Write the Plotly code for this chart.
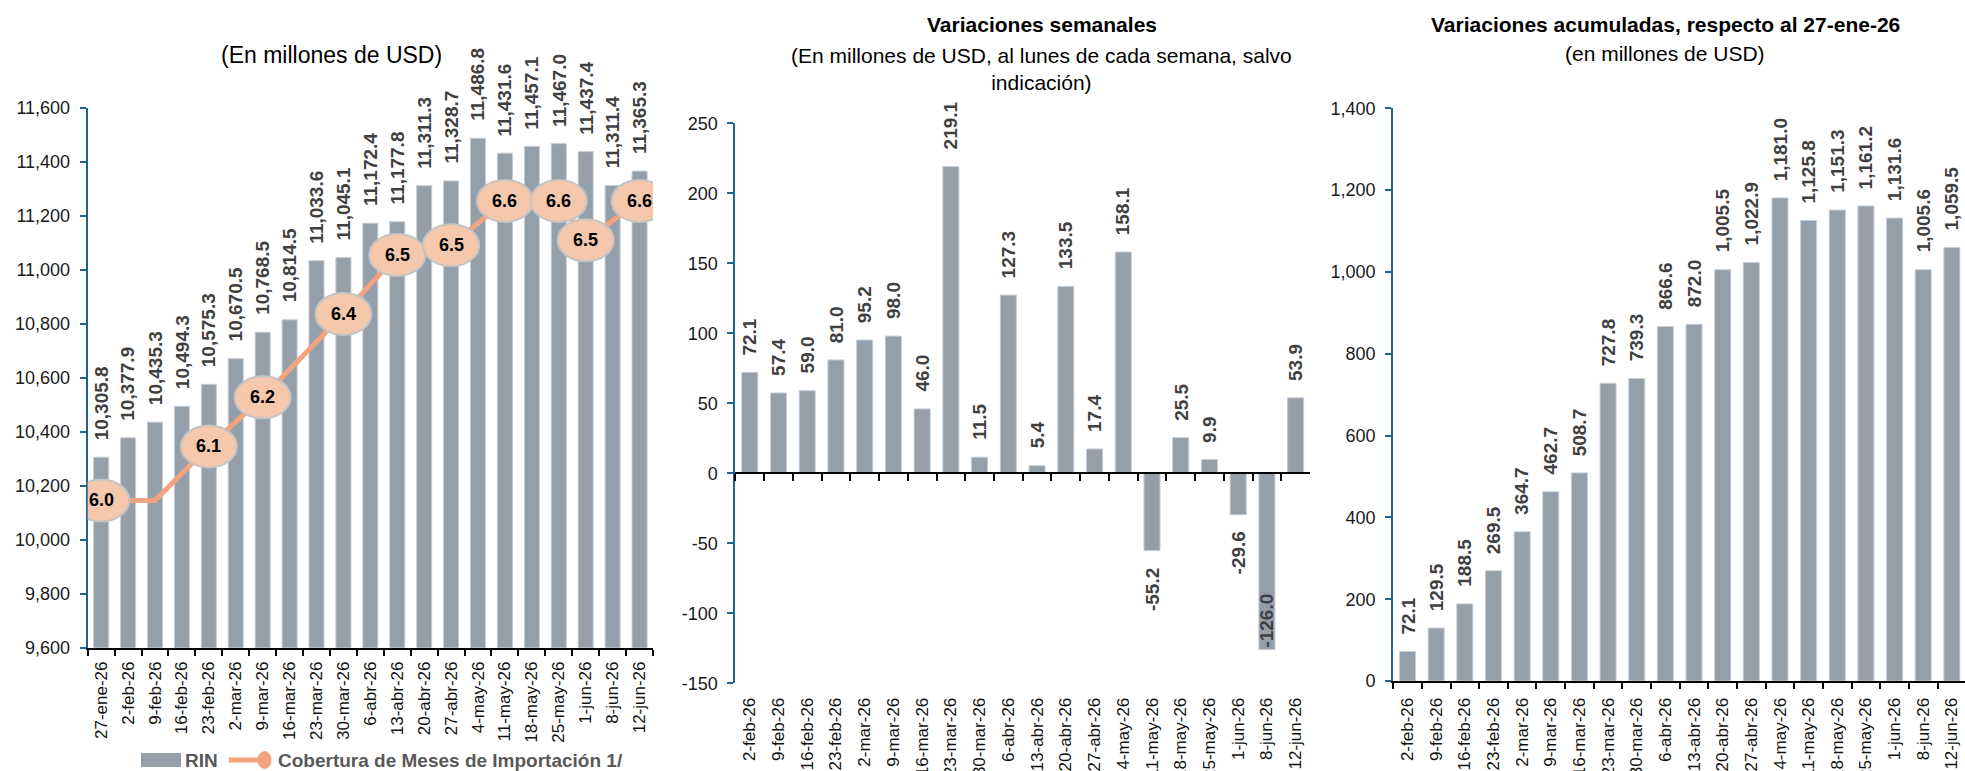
import plotly.graph_objects as go

# ---------------- DATA ----------------
fechas_rin = ["27-ene-26", "2-feb-26", "9-feb-26", "16-feb-26", "23-feb-26", "2-mar-26",
              "9-mar-26", "16-mar-26", "23-mar-26", "30-mar-26", "6-abr-26", "13-abr-26",
              "20-abr-26", "27-abr-26", "4-may-26", "11-may-26", "18-may-26", "25-may-26",
              "1-jun-26", "8-jun-26", "12-jun-26"]
rin = [10305.8, 10377.9, 10435.3, 10494.3, 10575.3, 10670.5, 10768.5, 10814.5, 11033.6,
       11045.1, 11172.4, 11177.8, 11311.3, 11328.7, 11486.8, 11431.6, 11457.1, 11467.0,
       11437.4, 11311.4, 11365.3]
# Cobertura de meses de importación (None = not readable on the chart)
cobertura = [6.00, None, 6.00, None, 6.11, None, 6.21, None, None, 6.38, None, 6.50,
             None, 6.52, None, 6.61, None, 6.61, 6.53, None, 6.61]
cobertura_etiqueta = [True, False, False, False, True, False, True, False, False, True, False,
                      True, False, True, False, True, False, True, True, False, True]

fechas_sem = ["2-feb-26", "9-feb-26", "16-feb-26", "23-feb-26", "2-mar-26", "9-mar-26",
              "16-mar-26", "23-mar-26", "30-mar-26", "6-abr-26", "13-abr-26", "20-abr-26",
              "27-abr-26", "4-may-26", "11-may-26", "18-may-26", "25-may-26", "1-jun-26",
              "8-jun-26", "12-jun-26"]
var_semanal = [72.1, 57.4, 59.0, 81.0, 95.2, 98.0, 46.0, 219.1, 11.5, 127.3, 5.4, 133.5,
               17.4, 158.1, -55.2, 25.5, 9.9, -29.6, -126.0, 53.9]
var_acumulada = [72.1, 129.5, 188.5, 269.5, 364.7, 462.7, 508.7, 727.8, 739.3, 866.6, 872.0,
                 1005.5, 1022.9, 1181.0, 1125.8, 1151.3, 1161.2, 1131.6, 1005.6, 1059.5]

ticks_rin = [9600, 9800, 10000, 10200, 10400, 10600, 10800, 11000, 11200, 11400, 11600]
ticks_sem = [-150, -100, -50, 0, 50, 100, 150, 200, 250]
ticks_acum = [0, 200, 400, 600, 800, 1000, 1200, 1400]
rango_cobertura = [5.7, 6.8]

# ---------------- STYLE / LAYOUT ----------------
W, H = 1965, 771
FONT = "Arial, 'Liberation Sans', sans-serif"
BAR = "#959FAA"
BAR_EDGE = "#C9CED3"
AXIS_BLUE = "#1F6391"
SALMON = "#F2A47F"
PEACH = "#F6C8AB"
LABEL_COL = "#404040"
LBL_SIZE = 19
GAP = 15


def xd(a, b):
    return [a / W, b / W]


def yd(top, bottom):
    return [1 - bottom / H, 1 - top / H]


dom_x1, dom_y1 = xd(87.7, 653.0), yd(107.7, 647.7)
dom_x2, dom_y2 = xd(735.4, 1310.0), yd(123.3, 683.3)
dom_x3, dom_y3 = xd(1393.2, W), yd(108.3, 681.0)
cat_px3 = 28.65
range_x3 = [-0.5, -0.5 + (W - 1393.2) / cat_px3]


def fmt(v):
    return f"{v:,.0f}"


fig = go.Figure()

# Chart 1
fig.add_trace(go.Bar(x=fechas_rin, y=rin, xaxis="x", yaxis="y", name="RIN",
                     marker=dict(color=BAR, line=dict(color=BAR_EDGE, width=1)),
                     showlegend=False, hoverinfo="skip"))
fig.add_trace(go.Scatter(x=fechas_rin, y=cobertura, xaxis="x", yaxis="y4",
                         name="Cobertura de Meses de Importación 1/", mode="lines",
                         connectgaps=True, line=dict(color=SALMON, width=5),
                         showlegend=False, hoverinfo="skip"))
# Chart 2
fig.add_trace(go.Bar(x=fechas_sem, y=var_semanal, xaxis="x2", yaxis="y2",
                     marker=dict(color=BAR, line=dict(color=BAR_EDGE, width=1)),
                     showlegend=False, hoverinfo="skip"))
fig.add_trace(go.Scatter(x=fechas_sem, y=[0] * len(fechas_sem), xaxis="x5", yaxis="y2",
                         mode="markers", marker=dict(opacity=0), showlegend=False,
                         hoverinfo="skip"))
# Chart 3
fig.add_trace(go.Bar(x=fechas_sem, y=var_acumulada, xaxis="x3", yaxis="y3",
                     marker=dict(color=BAR, line=dict(color=BAR_EDGE, width=1)),
                     showlegend=False, hoverinfo="skip"))

ytick_font = dict(family=FONT, size=18, color="#1a1a1a")
xtick_font = dict(family=FONT, size=17, color="#111111")


def yaxis_style(dom, anchor, ticks, rng, standoff):
    return dict(domain=dom, anchor=anchor, range=rng, tickmode="array", tickvals=ticks,
                ticktext=[fmt(t) for t in ticks], showline=True, linecolor=AXIS_BLUE,
                linewidth=2, ticks="outside", ticklen=6, tickwidth=2, tickcolor=AXIS_BLUE,
                showgrid=False, zeroline=False, tickfont=ytick_font,
                ticklabelstandoff=standoff, automargin=False)


def xaxis_style(dom, anchor, cats, rng, standoff, line=True):
    d = dict(domain=dom, anchor=anchor, type="category", categoryorder="array",
             categoryarray=cats, range=rng, tickangle=-90, tickfont=xtick_font,
             showgrid=False, zeroline=False, ticklabelstandoff=standoff, automargin=False)
    if line:
        d.update(showline=True, linecolor="black", linewidth=2, ticks="outside",
                 tickson="boundaries", ticklen=6, tickwidth=2, tickcolor="black")
    else:
        d.update(showline=False, ticks="")
    return d


pos_zero = dom_y2[0] + (0 - ticks_sem[0]) / (ticks_sem[-1] - ticks_sem[0]) * (dom_y2[1] - dom_y2[0])

fig.update_layout(
    width=W, height=H, margin=dict(l=0, r=0, t=0, b=0, autoexpand=False),
    paper_bgcolor="white", plot_bgcolor="white", bargap=0.44,
    font=dict(family=FONT),
    xaxis=xaxis_style(dom_x1, "y", fechas_rin, [-0.5, len(fechas_rin) - 0.5], 5),
    yaxis=yaxis_style(dom_y1, "x", ticks_rin, [ticks_rin[0], ticks_rin[-1]], 6),
    yaxis4=dict(overlaying="y", anchor="x", range=rango_cobertura, visible=False),
    xaxis2=xaxis_style(dom_x2, "y2", fechas_sem, [-0.5, len(fechas_sem) - 0.5], 10,
                       line=False),
    xaxis5=dict(overlaying="x2", anchor="free", position=pos_zero, type="category",
                categoryorder="array", categoryarray=fechas_sem,
                range=[-0.5, len(fechas_sem) - 0.5], showline=True, linecolor="black",
                linewidth=2, ticks="outside", tickson="boundaries", ticklen=7, tickwidth=2,
                tickcolor="black", showticklabels=False, showgrid=False, zeroline=False,
                automargin=False),
    yaxis2=yaxis_style(dom_y2, "x2", ticks_sem, [ticks_sem[0], ticks_sem[-1]], 6),
    xaxis3=xaxis_style(dom_x3, "y3", fechas_sem, range_x3, 8),
    yaxis3=yaxis_style(dom_y3, "x3", ticks_acum, [ticks_acum[0], ticks_acum[-1]], 6),
)

annotations = []
shapes = []


def bar_labels(cats, vals, xref, yref, ymin, ymax, dom_y):
    px_per_unit = (dom_y[1] - dom_y[0]) * H / (ymax - ymin)
    for c, v in zip(cats, vals):
        txt = f"{v:,.1f}"
        if v >= 0:
            ya, ys = "bottom", GAP
        else:
            length_px = len(txt) * 0.556 * LBL_SIZE
            if (v - ymin) * px_per_unit < GAP + length_px:
                ya, ys = "bottom", 0
            else:
                ya, ys = "top", -GAP
        annotations.append(dict(x=c, y=v, xref=xref, yref=yref, text=txt, textangle=-90,
                                showarrow=False, xanchor="center", yanchor=ya, yshift=ys,
                                font=dict(family=FONT, size=LBL_SIZE, color=LABEL_COL,
                                          weight="bold")))


bar_labels(fechas_rin, rin, "x", "y", ticks_rin[0], ticks_rin[-1], dom_y1)
bar_labels(fechas_sem, var_semanal, "x2", "y2", ticks_sem[0], ticks_sem[-1], dom_y2)
bar_labels(fechas_sem, var_acumulada, "x3", "y3", ticks_acum[0], ticks_acum[-1], dom_y3)

# Coverage callouts (ellipses)
for i, (v, lab) in enumerate(zip(cobertura, cobertura_etiqueta)):
    if v is None or not lab:
        continue
    shapes.append(dict(type="circle", xref="x", yref="y4", xsizemode="pixel",
                       ysizemode="pixel", xanchor=i, yanchor=v, x0=-28, x1=28, y0=-21, y1=21,
                       fillcolor=PEACH, line=dict(color="#C4C4C4", width=2), layer="above"))
    annotations.append(dict(x=fechas_rin[i], y=v, xref="x", yref="y4", text=f"{v:.1f}",
                            showarrow=False, xanchor="center", yanchor="middle",
                            font=dict(family=FONT, size=18, color="black", weight="bold")))


def pa(text, px, py, size, bold=False, xanchor="center", color="black"):
    annotations.append(dict(x=px / W, y=1 - py / H, xref="paper", yref="paper", text=text,
                            showarrow=False, xanchor=xanchor, yanchor="middle",
                            font=dict(family=FONT, size=size, color=color,
                                      weight="bold" if bold else "normal")))


# Titles
pa("(En millones de USD)", 331.5, 55, 23)
pa("Variaciones semanales", 1041.5, 24, 21, bold=True)
pa("(En millones de USD, al lunes de cada semana, salvo<br>indicación)", 1041.5, 68.5, 21)
pa("Variaciones acumuladas, respecto al 27-ene-26", 1665.5, 24, 21, bold=True)
pa("(en millones de USD)", 1664.5, 54, 21)

# Legend (chart 1)
shapes.append(dict(type="rect", xref="paper", yref="paper", x0=141 / W, x1=181 / W,
                   y0=1 - 767 / H, y1=1 - 753 / H, fillcolor=BAR, line=dict(width=0)))
shapes.append(dict(type="line", xref="paper", yref="paper", x0=229 / W, x1=262 / W,
                   y0=1 - 760 / H, y1=1 - 760 / H, line=dict(color=SALMON, width=5)))
shapes.append(dict(type="circle", xref="paper", yref="paper", x0=257.5 / W, x1=271.5 / W,
                   y0=1 - 769 / H, y1=1 - 751 / H, fillcolor=SALMON, line=dict(width=0)))
pa("RIN", 183, 760, 19, bold=True, xanchor="left", color="#595959")
pa("Cobertura de Meses de Importación 1/", 276, 760, 19, bold=True, xanchor="left",
   color="#595959")

fig.update_layout(annotations=annotations, shapes=shapes)

fig.write_html("out.html", config={"displayModeBar": False},
               post_script="document.body.style.margin='0px';"
                           "document.body.style.overflow='hidden';")
